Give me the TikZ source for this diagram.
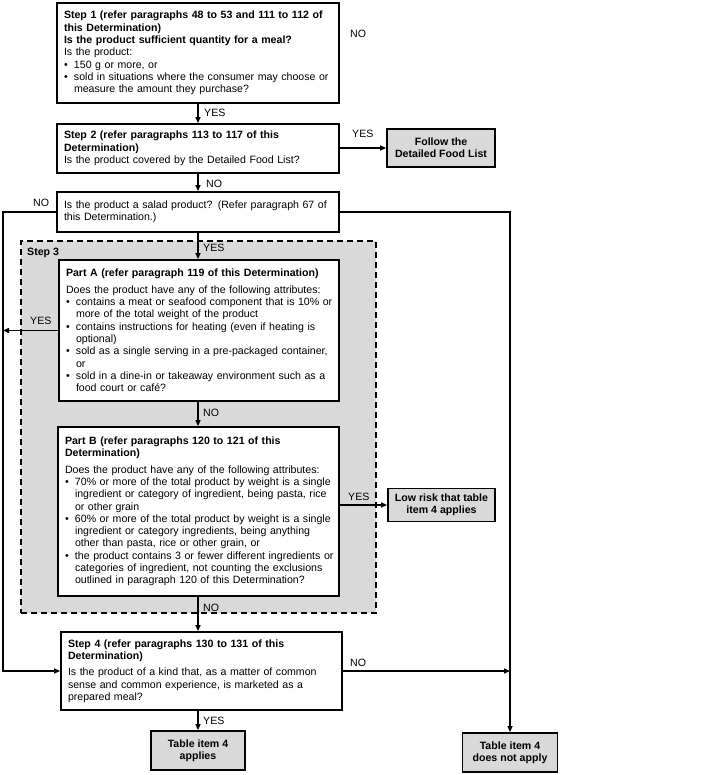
\documentclass[tikz,border=0pt]{standalone}
\usepackage{fontspec}
\setmainfont{Liberation Sans}
\usetikzlibrary{arrows.meta}
\newcommand{\bitem}[1]{\mbox{\makebox[10pt][l]{\textbullet}#1}}
\newcommand{\bcont}[1]{\mbox{\hspace*{10pt}#1}}
\newcommand{\lne}[1]{\mbox{#1}}
\begin{document}
\begin{tikzpicture}[x=1pt,y=-1pt,
  font=\fontsize{10.6}{12.3}\selectfont,
  box/.style={draw,line width=1.8pt,fill=white,inner xsep=7pt,inner ysep=2pt,align=left},
  endbox/.style={draw,line width=1.8pt,fill=black!15,align=center,inner sep=2pt,
    font=\fontsize{10.6}{12.3}\selectfont\bfseries},
  stepthree/.style={draw,dash pattern=on 6pt off 4pt,line width=1.8pt,fill=black!15},
  conn/.style={line width=1.4pt},
  arr/.style={conn,-{Triangle[length=6pt,width=5pt]}},
  lbl/.style={inner sep=0pt,anchor=west}]
\useasboundingbox (0,0) rectangle (718,775);

% Step 3 region
\node[stepthree,minimum width=355pt,minimum height=372pt] (st3) at (198.5,427) {};
\node[lbl,font=\fontsize{10.6}{12.3}\selectfont\bfseries] (st3lbl) at (27,253) {Step 3};

% boxes
\node[box,minimum width=282pt,minimum height=100pt,text width=268pt] (s1) at (198,53)
{\lne{\textbf{Step 1 (refer paragraphs 48 to 53 and 111 to 112 of}}\\
 \lne{\textbf{this Determination)}}\\
 \lne{\textbf{Is the product sufficient quantity for a meal?}}\\
 \lne{Is the product:}\\
 \bitem{150 g or more, or}\\
 \bitem{sold in situations where the consumer may choose or}\\
 \bcont{measure the amount they purchase?}};

\node[box,minimum width=282pt,minimum height=49pt,text width=268pt] (s2) at (198,148.5)
{\lne{\textbf{Step 2 (refer paragraphs 113 to 117 of this}}\\
 \lne{\textbf{Determination)}}\\
 \lne{Is the product covered by the Detailed Food List?}};

\node[endbox,minimum width=108pt,minimum height=38pt] (fl) at (441,148)
{Follow the\\ Detailed Food List};

\node[box,minimum width=282pt,minimum height=40pt,text width=268pt] (sal) at (198,212)
{\lne{Is the product a salad product? (Refer paragraph 67 of}\\
 \lne{this Determination.)}};

\node[box,minimum width=280pt,minimum height=141pt,text width=266pt] (pa) at (199,330.5)
{\lne{\textbf{Part A (refer paragraph 119 of this Determination)}}\\[4pt]
 \lne{Does the product have any of the following attributes:}\\
 \bitem{contains a meat or seafood component that is 10\% or}\\
 \bcont{more of the total weight of the product}\\
 \bitem{contains instructions for heating (even if heating is}\\
 \bcont{optional)}\\
 \bitem{sold as a single serving in a pre-packaged container,}\\
 \bcont{or}\\
 \bitem{sold in a dine-in or takeaway environment such as a}\\
 \bcont{food court or café?}};

\node[box,minimum width=281pt,minimum height=169pt,text width=267pt] (pb) at (198.5,511.5)
{\lne{\textbf{Part B (refer paragraphs 120 to 121 of this}}\\
 \lne{\textbf{Determination)}}\\[4pt]
 \lne{Does the product have any of the following attributes:}\\
 \bitem{70\% or more of the total product by weight is a single}\\
 \bcont{ingredient or category of ingredient, being pasta, rice}\\
 \bcont{or other grain}\\
 \bitem{60\% or more of the total product by weight is a single}\\
 \bcont{ingredient or category ingredients, being anything}\\
 \bcont{other than pasta, rice or other grain, or}\\
 \bitem{the product contains 3 or fewer different ingredients or}\\
 \bcont{categories of ingredient, not counting the exclusions}\\
 \bcont{outlined in paragraph 120 of this Determination?}};

\node[endbox,minimum width=107pt,minimum height=33pt] (lr) at (441.5,505)
{Low risk that table\\ item 4 applies};

\node[box,minimum width=281pt,minimum height=78pt,text width=267pt] (s4) at (201.5,671)
{\lne{\textbf{Step 4 (refer paragraphs 130 to 131 of this}}\\
 \lne{\textbf{Determination)}}\\[4pt]
 \lne{Is the product of a kind that, as a matter of common}\\
 \lne{sense and common experience, is marketed as a}\\
 \lne{prepared meal?}};

\node[endbox,minimum width=94pt,minimum height=39pt] (ta) at (198,750.5)
{Table item 4\\ applies};

\node[endbox,minimum width=95pt,minimum height=39pt] (tn) at (510,752.5)
{Table item 4\\ does not apply};

% helper coordinates
\coordinate (lb) at (3,671);

% connectors
\draw[arr] (s1) -- (s2);
\draw[arr] (s2.east |- fl.west) -- (fl.west);
\draw[arr] (s2) -- (sal);
\draw[arr] (sal.south) -- (sal.south |- pa.north);
\draw[arr] (pa.south -| sal.south) -- (pb.north -| sal.south);
\draw[arr] (pb.east |- lr.west) -- (lr.west);
\draw[arr] (pb.south -| sal.south) -- (s4.north -| sal.south);
\draw[arr] (s4.south -| sal.south) -- (ta.north -| sal.south);
\draw[arr] (sal.west) -- (sal.west -| lb) -- (lb) -- (s4.west);
\draw[arr] (pa.west) -- (pa.west -| lb);
\draw[arr] (sal.east) -- (sal.east -| tn.north) -- (tn.north);
\draw[arr] (s4.east) -- (s4.east -| tn.north);

% labels
\node[lbl] (l1) at (350,34) {NO};
\node[lbl] (l2) at (204,113) {YES};
\node[lbl] (l3) at (352,134) {YES};
\node[lbl] (l4) at (206,184) {NO};
\node[lbl] (l5) at (33,203) {NO};
\node[lbl] (l6) at (203,248) {YES};
\node[lbl] (l7) at (30,321) {YES};
\node[lbl] (l8) at (203,413) {NO};
\node[lbl] (l9) at (348,497) {YES};
\node[lbl] (l10) at (203,608) {NO};
\node[lbl] (l11) at (350,663) {NO};
\node[lbl] (l12) at (203,721) {YES};
\end{tikzpicture}
\end{document}
